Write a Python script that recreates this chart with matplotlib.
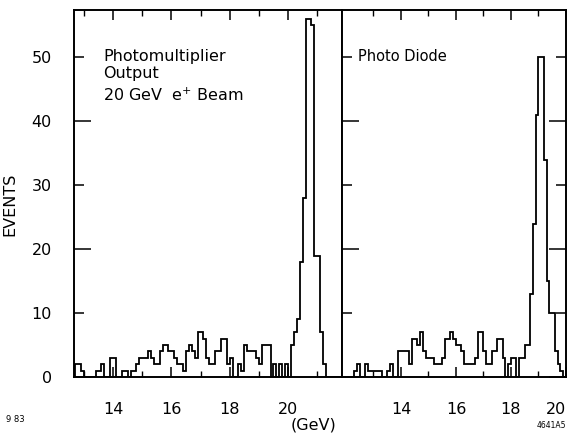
import numpy as np
import matplotlib
matplotlib.use("Agg")
import matplotlib.pyplot as plt

# ---- data -------------------------------------------------------------
# Left panel: photomultiplier output, 0.1 GeV bins starting at 12.7 GeV
pm_start = 12.7
pm_counts = [2, 2, 1, 0, 0, 0, 0, 1, 1, 2,
             0, 0, 3, 3, 0, 0, 1, 1, 0, 1,
             1, 2, 3, 3, 3, 4, 3, 2, 2, 4,
             5, 5, 4, 4, 3, 2, 2, 1, 4, 5,
             4, 3, 7, 7, 6, 3, 2, 2, 4, 4,
             6, 6, 2, 3, 0, 0, 2, 1, 5, 4,
             4, 4, 3, 2, 5, 5, 5, 0, 2, 0,
             2, 0, 2, 0, 5, 7, 9, 18, 28, 56,
             56, 55, 19, 19, 7, 2, 0, 0, 0, 0,
             0, 0]
# Right panel: photo diode, 0.1 GeV bins starting at 11.9 GeV
pd_start = 11.9
pd_counts = [0, 0, 0, 0, 1, 2, 0, 0, 2, 1,
             1, 1, 1, 1, 0, 0, 1, 2, 0, 0,
             4, 4, 4, 4, 2, 6, 6, 5, 7, 4,
             3, 3, 3, 2, 2, 2, 3, 6, 6, 7,
             6, 5, 5, 4, 2, 2, 2, 2, 3, 7,
             7, 4, 2, 2, 4, 4, 6, 6, 3, 0,
             2, 3, 3, 0, 3, 3, 5, 5, 13, 24,
             41, 50, 50, 34, 15, 10, 10, 4, 2, 1,
             0]
bin_width = 0.1
x_ticks = [14, 16, 18, 20]
x_minor = [13, 15, 17, 19, 21]
y_major = [0, 20, 40]
y_minor = [10, 30, 50]
left_xlim = (12.66, 21.85)
right_xlim = (11.855, 20.0)
ylim = (0, 57.4)

# ---- figure -----------------------------------------------------------
W, H = 571, 433
fig = plt.figure(figsize=(W / 100, H / 100), dpi=100)
plt.rcParams['font.family'] = ['DejaVu Sans']

def frac(x0, y0, x1, y1):
    return [x0 / W, 1 - y1 / H, (x1 - x0) / W, (y1 - y0) / H]

axL = fig.add_axes(frac(74, 10, 342, 377))
axR = fig.add_axes(frac(342, 10, 566, 377))

for ax, start, counts, xlim in ((axL, pm_start, pm_counts, left_xlim),
                                (axR, pd_start, pd_counts, right_xlim)):
    edges = start + bin_width * np.arange(len(counts) + 1)
    ax.stairs(counts, edges, color='black', linewidth=1.3, baseline=0)
    for s in ax.spines.values():
        s.set_linewidth(1.4)
    ax.set_xticks(x_ticks)
    ax.set_xticks(x_minor, minor=True)
    ax.set_xticklabels([str(t) for t in x_ticks], fontsize=11.5)
    ax.tick_params(axis='x', which='major', direction='in', length=7,
                   width=1.1, top=True, pad=18)
    ax.tick_params(axis='x', which='minor', direction='in', length=4,
                   width=1.0, top=True)
    ax.set_xlim(*xlim)
    ax.set_ylim(*ylim)

axL.set_yticks(y_major)
axL.set_yticks(y_minor, minor=True)
axL.set_yticklabels([str(v) for v in y_major], fontsize=11.5)
axL.set_yticklabels([str(v) for v in y_minor], fontsize=11.5, minor=True)
axL.tick_params(axis='y', which='major', direction='in', length=12,
                width=1.1, pad=16)
axL.tick_params(axis='y', which='minor', direction='in', length=7,
                width=1.1, pad=16)
axL.set_ylabel('EVENTS', fontsize=11.5)
axL.yaxis.set_label_coords((17 - 74) / 268, 0.47)
axL.set_ylim(*ylim)

axR.set_yticks(y_major)
axR.set_yticks(y_minor, minor=True)
axR.tick_params(axis='y', which='both', direction='in', left=True,
                right=True, labelleft=False, width=1.1)
axR.tick_params(axis='y', which='major', length=12)
axR.tick_params(axis='y', which='minor', length=7)
axR.set_ylim(*ylim)
xl = axR.get_xticklabels()
xl[-1].set_horizontalalignment('right')

axL.text(0.11, 0.895, 'Photomultiplier\nOutput', transform=axL.transAxes,
         fontsize=11.5, va='top', ha='left', linespacing=1.2)
axL.text(0.11, 0.79, '20 GeV  e$^{+}$ Beam', transform=axL.transAxes,
         fontsize=11.5, va='top', ha='left')
axR.text(0.07, 0.895, 'Photo Diode', transform=axR.transAxes,
         fontsize=10.5, va='top', ha='left')

fig.text(313 / W, 1 - 425 / H, '(GeV)', fontsize=11.5, ha='center',
         va='center')
fig.text(6 / W, 1 - 419 / H, '9 83', fontsize=6, ha='left', va='center')
fig.text(566 / W, 1 - 425 / H, '4641A5', fontsize=5.5, ha='right',
         va='center')

fig.savefig('out.png', dpi=100, facecolor='white')
